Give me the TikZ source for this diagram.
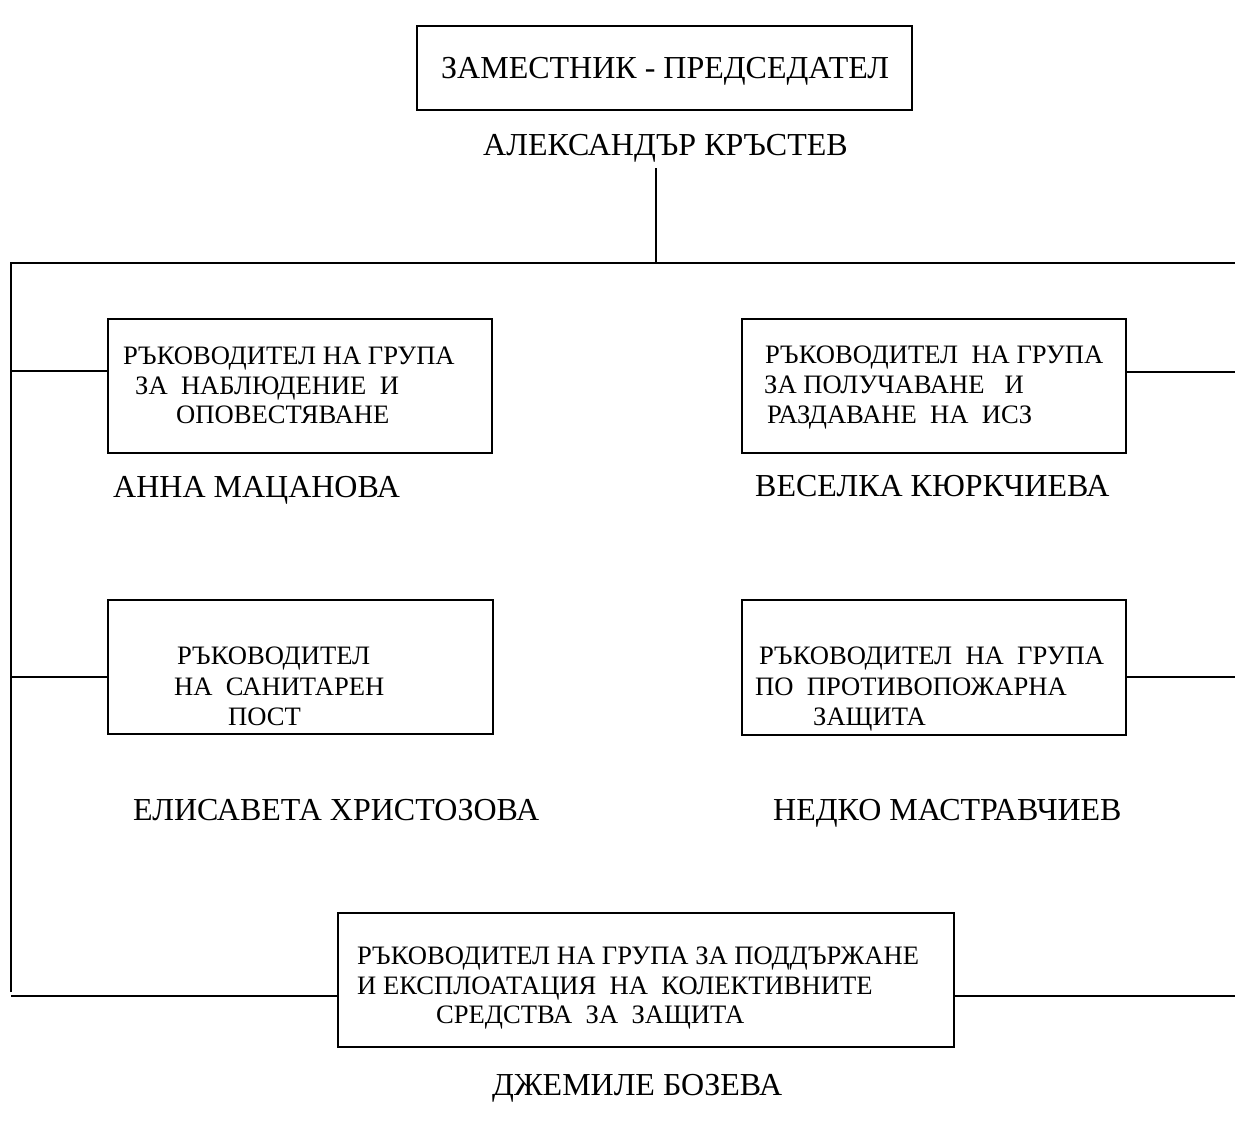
\documentclass[tikz,border=0pt]{standalone}
\usepackage{fontspec}
\setmainfont{Liberation Serif}
\tikzset{
  box/.style={draw, line width=1.6pt, inner sep=0pt, anchor=north west},
  big/.style={inner sep=0pt, anchor=base west, font=\fontsize{32}{38}\selectfont},
  small/.style={inner sep=0pt, anchor=base west, font=\fontsize{26.6}{30}\selectfont},
  conn/.style={line width=1.6pt},
}
\begin{document}
\begin{tikzpicture}[x=1pt,y=-1pt]
\useasboundingbox[fill=white] (0,0) rectangle (1235,1127);

% boxes
\node[box, minimum width=495pt, minimum height=84pt] (b0) at (416,25) {};
\node[box, minimum width=384pt, minimum height=134pt] (b1) at (107,318) {};
\node[box, minimum width=384pt, minimum height=134pt] (b2) at (741,318) {};
\node[box, minimum width=385pt, minimum height=134pt] (b3) at (107,599) {};
\node[box, minimum width=384pt, minimum height=135pt] (b4) at (741,599) {};
\node[box, minimum width=616pt, minimum height=134pt] (b5) at (337,912) {};

% top
\node[big] (t0) at (441,78) {ЗАМЕСТНИК - ПРЕДСЕДАТЕЛ};
\node[big] (n0) at (483,155) {АЛЕКСАНДЪР КРЪСТЕВ};

% box 1
\node[small] (t1a) at (123,364) {РЪКОВОДИТЕЛ НА ГРУПА};
\node[small] (t1b) at (135,394) {ЗА~ НАБЛЮДЕНИЕ~ И};
\node[small] (t1c) at (176,423) {ОПОВЕСТЯВАНЕ};
\node[big] (n1) at (113,497) {АННА МАЦАНОВА};

% box 2
\node[small] (t2a) at (765,363) {РЪКОВОДИТЕЛ~ НА ГРУПА};
\node[small] (t2b) at (764,393) {ЗА ПОЛУЧАВАНЕ~~ И};
\node[small] (t2c) at (767,423) {РАЗДАВАНЕ~ НА~ ИСЗ};
\node[big] (n2) at (755,496) {ВЕСЕЛКА КЮРКЧИЕВА};

% box 3
\node[small] (t3a) at (177,664) {РЪКОВОДИТЕЛ};
\node[small] (t3b) at (174,695) {НА~ САНИТАРЕН};
\node[small] (t3c) at (228,725) {ПОСТ};
\node[big] (n3) at (133,820) {ЕЛИСАВЕТА ХРИСТОЗОВА};

% box 4
\node[small] (t4a) at (759,664) {РЪКОВОДИТЕЛ~ НА~ ГРУПА};
\node[small] (t4b) at (755,695) {ПО~ ПРОТИВОПОЖАРНА};
\node[small] (t4c) at (813,725) {ЗАЩИТА};
\node[big] (n4) at (773,820) {НЕДКО МАСТРАВЧИЕВ};

% box 5
\node[small] (t5a) at (357,964) {РЪКОВОДИТЕЛ НА ГРУПА ЗА ПОДДЪРЖАНЕ};
\node[small] (t5b) at (357,994) {И ЕКСПЛОАТАЦИЯ~ НА~ КОЛЕКТИВНИТЕ};
\node[small] (t5c) at (436,1023) {СРЕДСТВА~ ЗА~ ЗАЩИТА};
\node[big] (n5) at (492,1095) {ДЖЕМИЛЕ БОЗЕВА};

% connectors
\coordinate (stemtop) at (656,168);
\coordinate (busL) at (11,263);
\coordinate (busR) at (1235,263);
\coordinate (trunkB) at (11,992);
\draw[conn] (stemtop) -- (stemtop |- busL);
\draw[conn] (trunkB) -- (busL) -- (busR);

\coordinate (l1) at (11,371);
\coordinate (l3) at (11,677);
\coordinate (l5) at (11,996);
\coordinate (r2) at (1235,372);
\coordinate (r4) at (1235,677);
\coordinate (r5) at (1235,996);
\draw[conn] (l1) -- (l1 -| b1.west);
\draw[conn] (l3) -- (l3 -| b3.west);
\draw[conn] (l5) -- (l5 -| b5.west);
\draw[conn] (r2 -| b2.east) -- (r2);
\draw[conn] (r4 -| b4.east) -- (r4);
\draw[conn] (r5 -| b5.east) -- (r5);
\end{tikzpicture}
\end{document}
